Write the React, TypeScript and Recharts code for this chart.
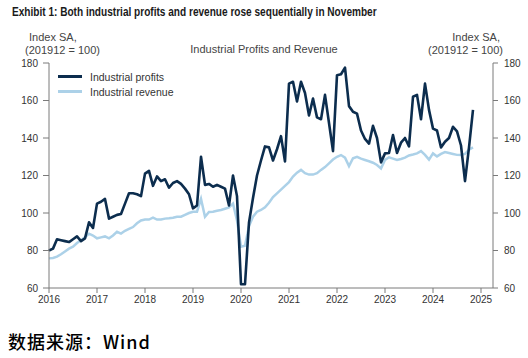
import { LineChart, Line, XAxis, YAxis } from "recharts";

// monthly, Jan 2016 .. Nov 2024
const profits = [
  80, 81, 86, 85.5, 85, 84.5, 86, 87.5, 85, 86.5, 95, 92,
  105, 106, 107.5, 97, 98, 99, 99.5, 105, 110.5, 110.5, 110, 109,
  121, 122.5, 114.5, 119.5, 117, 118, 113.5, 116, 117, 115.5, 113, 110,
  102.5, 104, 130, 115, 115.5, 114, 115, 114, 113, 104, 120, 109,
  62, 62, 95, 108, 120, 128, 135.5, 135, 128, 134, 141, 127.5,
  169, 170, 159.5, 170, 164, 152, 161, 151, 150, 163, 148, 133,
  173.5, 174, 177.5, 157, 154, 153, 144, 139.5, 137, 146.5, 140, 127,
  131.8, 132, 141.6, 132, 137.5, 140, 135.5, 162, 163, 150, 169, 155,
  145, 144, 135, 138, 140, 146, 143.5, 136, 117, 135, 155,
];

const revenue = [
  75.8, 76, 76.7, 78, 79.5, 81, 82, 84, 85.5, 87, 89, 88,
  86.5, 87, 87.5, 86.5, 88, 90, 89, 90.5, 91.5, 92.5, 94.5, 96,
  96.5, 96.5, 97.5, 96.5, 96.5, 97, 97.2, 97.5, 98, 98, 99, 100,
  100.7, 100.7, 107.5, 98, 100.5, 100.7, 101.2, 101.6, 102.3, 103, 105, 96,
  82, 82.5, 93, 98, 100.7, 101.6, 103, 105.5, 108.5, 110.5, 112.5, 114.5,
  116.5, 119.4, 121.5, 123, 121.2, 120.5, 120.5, 121.2, 123, 124.5, 126.5, 128.5,
  130, 130.9, 129.5, 125, 129.2, 130, 129, 128.3, 127.6, 126.8, 125.6, 123.8,
  128.3, 129.7, 129, 128.3, 128.8, 129.5, 130.7, 131.2, 131.8, 133, 131, 128.5,
  131.8, 130.2, 131.5, 132.5, 132, 131.5, 131, 130.9, 131.5, 133.8, 135,
];

const years = ["2016", "2017", "2018", "2019", "2020", "2021", "2022", "2023", "2024", "2025"];
const yTicks = [60, 80, 100, 120, 140, 160, 180];

const rows = profits.map((p, i) => ({ i, profits: p, revenue: revenue[i] }));
const xTicks = years.map((_, k) => k * 12);

const PROFIT = "#0c2d4e";
const REVENUE = "#acd1e8";
const AXIS = "#7a7a7a";
const FONT = "'Liberation Sans', Arial, sans-serif";

const tickStyle = { fontSize: 10, fill: "#333", fontFamily: FONT };

function LegendBox() {
  const items = [
    { label: "Industrial profits", color: PROFIT, w: 3 },
    { label: "Industrial revenue", color: REVENUE, w: 2.5 },
  ];
  return (
    <div style={{ position: "absolute", left: 58, top: 69, fontFamily: FONT, fontSize: 10.5, color: "#333" }}>
      {items.map((it) => (
        <div key={it.label} style={{ display: "flex", alignItems: "center", height: 15 }}>
          <div style={{ width: 24, height: it.w, background: it.color, marginRight: 8 }} />
          <span>{it.label}</span>
        </div>
      ))}
    </div>
  );
}

export default function App() {
  const label = { position: "absolute" as const, fontFamily: FONT, fontSize: 11, color: "#444", lineHeight: "13px" };
  return (
    <div style={{ position: "absolute", left: 0, top: 0, width: 528, height: 358, background: "#fff" }}>
      <div
        style={{
          position: "absolute",
          left: 12,
          top: 5,
          fontFamily: FONT,
          fontWeight: 700,
          fontSize: 12,
          color: "#1a1a1a",
          whiteSpace: "nowrap",
          transform: "scaleX(0.84)",
          transformOrigin: "left center",
        }}
      >
        Exhibit 1: Both industrial profits and revenue rose sequentially in November
      </div>
      <div style={{ ...label, left: 29, top: 31 }}>Index SA,</div>
      <div style={{ ...label, left: 25, top: 44 }}>(201912 = 100)</div>
      <div style={{ ...label, right: 28, top: 31 }}>Index SA,</div>
      <div style={{ ...label, right: 25, top: 44 }}>(201912 = 100)</div>
      <div style={{ ...label, left: 0, width: 528, textAlign: "center", top: 43 }}>Industrial Profits and Revenue</div>

      <LineChart
        width={528}
        height={358}
        data={rows}
        margin={{ top: 63, right: 0, bottom: 50, left: 9 }}
      >
        <XAxis
          dataKey="i"
          type="number"
          domain={[0, 111]}
          ticks={xTicks}
          tickFormatter={(v: number) => years[Math.round(v / 12)]}
          height={20}
          stroke={AXIS}
          tick={tickStyle}
          tickSize={5}
          tickMargin={3}
          interval={0}
        />
        <YAxis
          yAxisId="left"
          domain={[60, 180]}
          ticks={yTicks}
          width={40}
          stroke={AXIS}
          tick={tickStyle}
          tickSize={6}
          tickMargin={5}
          interval={0}
        />
        <YAxis
          yAxisId="right"
          orientation="right"
          domain={[60, 180]}
          ticks={yTicks}
          width={35}
          stroke={AXIS}
          tick={{ ...tickStyle, textAnchor: "start" }}
          tickSize={5}
          tickMargin={6}
          interval={0}
        />
        <Line
          yAxisId="right"
          dataKey="revenue"
          stroke={REVENUE}
          strokeWidth={2.5}
          dot={false}
          isAnimationActive={false}
        />
        <Line
          yAxisId="left"
          dataKey="profits"
          stroke={PROFIT}
          strokeWidth={2.6}
          dot={false}
          strokeLinejoin="round"
          isAnimationActive={false}
        />
      </LineChart>

      <LegendBox />

      <div
        style={{
          position: "absolute",
          left: 8,
          top: 328,
          fontFamily: "'Noto Sans CJK SC', 'Noto Sans', sans-serif",
          fontSize: 18,
          fontWeight: 500,
          color: "#000",
          whiteSpace: "nowrap",
          letterSpacing: 1,
        }}
      >
        数据来源：Wind
      </div>
    </div>
  );
}
